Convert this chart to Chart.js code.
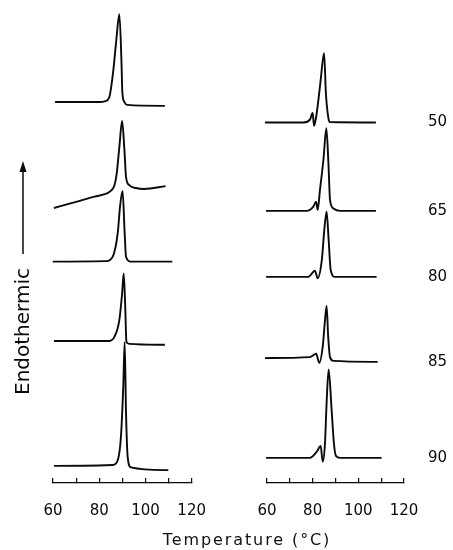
<!DOCTYPE html>
<html>
<head>
<meta charset="utf-8">
<script src="https://cdn.jsdelivr.net/npm/chart.js@4.4.1/dist/chart.umd.min.js"></script>
<style>
  html, body { margin: 0; padding: 0; background: #fff; }
  #wrap { position: relative; width: 453px; height: 550px; overflow: hidden; }
  #leftPanel { position: absolute; left: 0; top: 0; }
  #rightPanel { position: absolute; left: 230px; top: 0; }
  #xTitle {
    position: absolute; left: 97px; width: 300px; top: 530px;
    text-align: center; font: 16px/20px "DejaVu Sans", sans-serif;
    letter-spacing: 1.9px; color: #111;
  }
</style>
</head>
<body>
<div id="wrap">
  <canvas id="leftPanel" width="230" height="550"></canvas>
  <canvas id="rightPanel" width="223" height="550"></canvas>
  <div id="xTitle">Temperature (°C)</div>
</div>
<script>
// temperature ticks (°C)
const tickValues = [60, 70, 80, 90, 100, 110, 120];
const tickLabelValues = [60, 80, 100, 120];

// left stack, top to bottom: [temperature, heat flow (arb. units, stacked)]
const left1 = [[60.9, 80.2], [80.1, 80.2], [82.7, 80.4], [84.4, 81.3], [86.1, 86.9], [87.4, 93.3], [88.7, 98.7], [89.6, 89.1], [90.0, 82.3], [90.9, 80.2], [92.1, 79.6], [108.4, 79.4]];
const left2 = [[60.4, 57.9], [70.0, 59.2], [78.0, 60.3], [83.0, 60.9], [85.2, 61.6], [86.6, 62.7], [87.6, 65.3], [88.7, 70.7], [89.9, 76.2], [90.9, 70.1], [91.6, 64.4], [93.0, 62.7], [95.9, 62.1], [99.4, 61.9], [108.7, 62.5]];
const left3 = [[59.9, 46.6], [83.0, 46.7], [85.8, 47.6], [88.0, 52.6], [89.0, 58.2], [90.1, 61.5], [91.0, 52.6], [91.6, 47.6], [93.7, 46.6], [111.6, 46.6]];
const left4 = [[60.4, 29.9], [84.4, 29.9], [86.6, 30.8], [88.7, 34.3], [89.9, 39.9], [90.6, 44.1], [91.3, 36.4], [91.7, 30.1], [92.1, 29.5], [93.0, 29.3], [108.4, 29.1]];
const left5 = [[60.4, 3.6], [85.8, 3.8], [88.0, 4.8], [89.4, 9.8], [90.4, 20.3], [91.0, 29.7], [91.6, 14.7], [92.3, 5.5], [93.7, 3.3], [109.9, 2.7]];

// right stack
const right1 = [[59.1, 75.9], [76.0, 75.9], [78.8, 76.5], [80.0, 77.9], [80.6, 75.2], [81.5, 77.0], [82.5, 80.6], [83.5, 84.8], [85.0, 90.5], [85.8, 82.0], [86.8, 77.1], [87.5, 76.0], [107.7, 75.9]];
const right2 = [[59.6, 57.3], [77.4, 57.3], [80.3, 58.2], [81.5, 59.2], [82.2, 57.5], [83.2, 61.7], [84.7, 68.0], [86.0, 74.7], [86.9, 67.3], [87.6, 59.6], [89.1, 57.8], [92.0, 57.3], [107.7, 57.3]];
const right3 = [[59.6, 43.4], [78.1, 43.4], [81.0, 44.7], [82.2, 43.1], [84.0, 46.9], [85.1, 53.3], [86.1, 57.1], [87.0, 51.2], [87.9, 44.8], [89.8, 43.4], [108.0, 43.4]];
const right4 = [[59.1, 26.3], [78.8, 26.5], [81.5, 27.2], [82.9, 25.3], [84.4, 28.7], [85.4, 34.3], [86.1, 37.3], [86.8, 30.8], [87.6, 26.5], [89.1, 25.7], [108.5, 25.5]];
const right5 = [[59.6, 5.3], [78.8, 5.3], [81.8, 6.6], [83.5, 7.8], [84.4, 4.5], [85.4, 8.4], [86.1, 16.8], [87.0, 23.9], [88.3, 15.4], [89.3, 8.4], [90.2, 5.7], [92.0, 5.3], [110.2, 5.3]];
const rightLabels = ['50', '65', '80', '85', '90'];

const leftCurves = [left1, left2, left3, left4, left5];
const rightCurves = [right1, right2, right3, right4, right5];

const ink = '#0a0a0a';
const tickFont = { family: 'DejaVu Sans', size: 15 };

function toDatasets(curves) {
    return curves.map(c => ({
        data: c.map(p => ({ x: p[0], y: p[1] })),
        borderColor: ink,
        borderWidth: 1.9,
        pointRadius: 0,
        cubicInterpolationMode: 'monotone',
        fill: false,
        clip: false
    }));
}

function xScale() {
    return {
        type: 'linear',
        min: 60,
        max: 120,
        afterBuildTicks: axis => { axis.ticks = tickValues.map(v => ({ value: v })); },
        afterFit: axis => { axis.height = 67; },
        ticks: {
            autoSkip: false,
            maxRotation: 0,
            padding: 24,
            color: ink,
            font: tickFont,
            callback: v => tickLabelValues.includes(v) ? String(v) : ''
        },
        grid: { drawOnChartArea: false, drawTicks: true, tickLength: -5, color: ink, lineWidth: 1.2 },
        border: { display: true, color: ink, width: 1.2 }
    };
}

// y label with the upward arrow
const endoLabel = {
    id: 'endoLabel',
    afterDraw(chart) {
        const ctx = chart.ctx;
        const a = chart.chartArea;
        const x = a.left - 31;
        ctx.save();
        ctx.fillStyle = ink;
        ctx.font = '20px "DejaVu Sans"';
        ctx.translate(x + 7, a.bottom - 88);
        ctx.rotate(-Math.PI / 2);
        ctx.textAlign = 'left';
        ctx.textBaseline = 'alphabetic';
        ctx.fillText('Endothermic', 0, 0);
        ctx.restore();

        ctx.save();
        ctx.strokeStyle = ink;
        ctx.fillStyle = ink;
        ctx.lineWidth = 1.5;
        ctx.beginPath();
        ctx.moveTo(x + 1, a.bottom - 229);
        ctx.lineTo(x + 1, a.bottom - 314);
        ctx.stroke();
        ctx.beginPath();
        ctx.moveTo(x + 1, a.bottom - 322);
        ctx.lineTo(x - 2.5, a.bottom - 311);
        ctx.lineTo(x + 4.5, a.bottom - 311);
        ctx.closePath();
        ctx.fill();
        ctx.restore();
    }
};

new Chart(document.getElementById('leftPanel'), {
    type: 'line',
    data: { datasets: toDatasets(leftCurves) },
    options: {
        responsive: false,
        animation: false,
        layout: { padding: { left: 53, right: 37, top: 8, bottom: 0 } },
        plugins: { legend: { display: false }, tooltip: { enabled: false } },
        scales: {
            x: xScale(),
            y: { display: false, min: 0, max: 100 }
        }
    },
    plugins: [endoLabel]
});

new Chart(document.getElementById('rightPanel'), {
    type: 'line',
    data: { datasets: toDatasets(rightCurves) },
    options: {
        responsive: false,
        animation: false,
        layout: { padding: { left: 37, right: 0, top: 8, bottom: 0 } },
        plugins: { legend: { display: false }, tooltip: { enabled: false } },
        scales: {
            x: xScale(),
            y: {
                position: 'right',
                min: 0,
                max: 100,
                afterBuildTicks: axis => {
                    axis.ticks = rightCurves.map(c => ({ value: c[c.length - 1][1] }));
                },
                afterFit: axis => {
                    axis.width = 49;
                    axis.paddingTop = 0;
                    axis.paddingBottom = 0;
                },
                ticks: {
                    padding: 24,
                    color: ink,
                    font: tickFont,
                    callback: (v, i) => rightLabels[i]
                },
                grid: { display: false, drawTicks: false },
                border: { display: false }
            }
        }
    }
});
</script>
</body>
</html>
